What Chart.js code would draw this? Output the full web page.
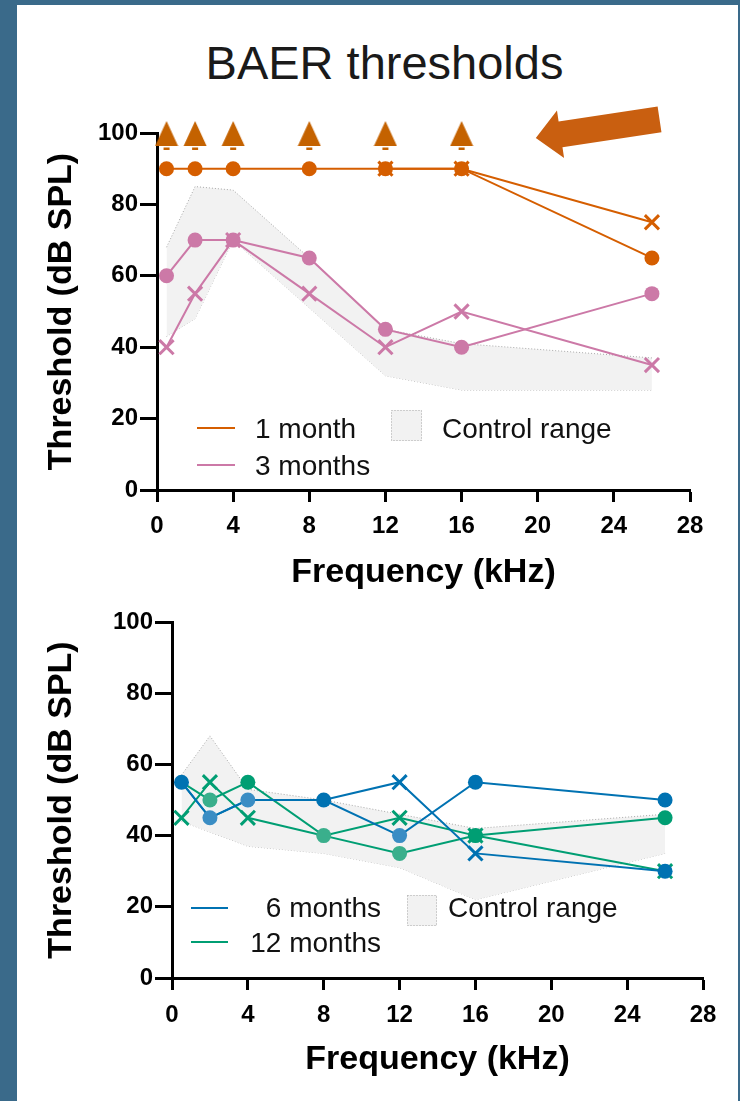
<!DOCTYPE html>
<html>
<head>
<meta charset="utf-8">
<script src="https://cdn.jsdelivr.net/npm/chart.js@4.4.1/dist/chart.umd.min.js"></script>
<style>
html, body { margin: 0; padding: 0; background: #fff; }
body { width: 740px; height: 1101px; position: relative; overflow: hidden; font-family: "Liberation Sans", Arial, sans-serif; }
.band { position: absolute; background: #3a6a8a; z-index: 5; }
#title { position: absolute; left: 0; width: 769px; top: 39px; line-height: 47px; text-align: center; font-size: 47px; color: #1a1a1a; }
canvas { position: absolute; left: 0; }
</style>
</head>
<body>
<div class="band" style="left:0;top:0;width:17px;height:1101px"></div>
<div class="band" style="left:0;top:0;width:740px;height:5px"></div>
<div class="band" style="right:0;top:0;width:2px;height:1101px"></div>
<div id="title">BAER thresholds</div>
<canvas id="topChart" width="740" height="600" style="top:0"></canvas>
<canvas id="bottomChart" width="740" height="501" style="top:600px"></canvas>

<script>
// ---------------- DATA ----------------
const freqs = [0.5, 2, 4, 8, 12, 16, 26];           // kHz

// top panel: 1 and 3 months
const month1Circle = [90, 90, 90, 90, 90, 90, 65];
const month1Cross = [null, null, null, null, 90, 90, 75];
const month1NoResponse = [100, 100, 100, 100, 100, 100, null];
const month3Circle = [60, 70, 70, 65, 45, 40, 55];
const month3Cross = [40, 55, 70, 55, 40, 50, 35];
const controlUpperTop = [68, 85, 84, 65, 45, 41, 37];
const controlLowerTop = [43, 48, 70, 51, 32, 28, 28];

// bottom panel: 6 and 12 months
const month6Circle = [55, 45, 50, 50, 40, 55, 50];
const month6Cross = [55, 45, 50, 50, 55, 35, 30];
const month12Circle = [55, 50, 55, 40, 35, 40, 45];
const month12Cross = [45, 55, 45, 40, 45, 40, 30];
const controlUpperBottom = [57, 68, 53, 50, 46, 42, 46];
const controlLowerBottom = [44, 41, 37, 35, 31, 22, 35];

const xTicks = { min: 0, max: 28, step: 4 };
const yTicks = { min: 0, max: 100, step: 20 };

// ---------------- STYLE ----------------
const FONT = '"Liberation Sans", Arial, Helvetica, sans-serif';
const ORANGE = "#d55e00";
const PINK = "#cc79a7";
const BLUE = "#0072b2";
const BLUE_LIGHT = "#3a8dc4";
const GREEN = "#009e73";
const GREEN_LIGHT = "#3aaf8c";
const CTRL_FILL = "#f2f2f2";
const CTRL_EDGE = "#a8a8a8";

function xy(values) {
    return freqs.map((f, i) => ({ x: f, y: values[i] }));
}

// up-arrow marker (triangle with a small stem), drawn once into a canvas
function arrowMarker(color) {
    const c = document.createElement("canvas");
    c.width = 24;
    c.height = 36;
    const g = c.getContext("2d");
    g.fillStyle = color;
    g.beginPath();
    g.moveTo(12, 6);
    g.lineTo(23.5, 31);
    g.lineTo(0.5, 31);
    g.closePath();
    g.fill();
    g.fillRect(9, 32.5, 6, 2.5);
    return c;
}

function controlSets(upper, lower) {
    const common = {
        borderColor: CTRL_EDGE, borderWidth: 1, borderDash: [1, 2],
        pointRadius: 0, tension: 0, order: 10
    };
    return [
        { ...common, label: "Control range", data: xy(upper), backgroundColor: CTRL_FILL, fill: "+1" },
        { ...common, label: "Control low", data: xy(lower), fill: false }
    ];
}

function circleSet(label, values, color, extra) {
    return Object.assign({
        label, data: xy(values), borderColor: color, borderWidth: 2,
        pointStyle: "circle", pointRadius: 7.5, pointBorderWidth: 0,
        pointBackgroundColor: color, fill: false, clip: false, order: 0
    }, extra || {});
}

function crossSet(label, values, color, extra) {
    return Object.assign({
        label, data: xy(values), borderColor: color, borderWidth: 2,
        pointStyle: "crossRot", pointRadius: 10, pointBorderWidth: 3,
        pointBorderColor: color, pointBackgroundColor: color, fill: false, clip: false, order: 0
    }, extra || {});
}

function axes(o) {
    const tickFont = { family: FONT, size: 24, weight: "bold" };
    const titleFont = { family: FONT, size: 34, weight: "bold" };
    return {
        x: {
            type: "linear", min: xTicks.min, max: xTicks.max,
            ticks: { stepSize: xTicks.step, autoSkip: false, maxRotation: 0, color: "#000", padding: o.xTickPad, font: tickFont },
            grid: { drawOnChartArea: false, drawTicks: true, tickLength: 12, tickWidth: 3, tickColor: "#000" },
            border: { display: true, color: "#000", width: 3 },
            title: { display: true, text: "Frequency (kHz)", color: "#000", font: titleFont, padding: { top: 0, bottom: o.xTitlePad } },
            afterFit: s => { s.height = o.xHeight; }
        },
        y: {
            type: "linear", min: yTicks.min, max: yTicks.max,
            ticks: { stepSize: yTicks.step, color: "#000", padding: 2, font: tickFont },
            grid: { drawOnChartArea: false, drawTicks: true, tickLength: 17, tickWidth: 3, tickColor: "#000" },
            border: { display: true, color: "#000", width: 3 },
            title: { display: true, text: "Threshold (dB SPL)", color: "#000", font: titleFont, padding: { top: 41, bottom: 0 } },
            afterFit: s => { s.width = o.yWidth; }
        }
    };
}

// legend + annotation painter
function decorPlugin(deco) {
    return {
        id: "decor",
        afterDraw(chart) {
            const ctx = chart.ctx;
            ctx.save();
            ctx.font = "28px " + FONT;
            ctx.fillStyle = "#111";
            ctx.textBaseline = "alphabetic";

            deco.lines.forEach(it => {
                ctx.strokeStyle = it.color;
                ctx.lineWidth = 2;
                ctx.beginPath();
                ctx.moveTo(it.x1, it.y);
                ctx.lineTo(it.x2, it.y);
                ctx.stroke();
                ctx.textAlign = it.align || "left";
                ctx.fillText(it.text, it.tx, it.ty);
            });

            const b = deco.box;
            ctx.fillStyle = CTRL_FILL;
            ctx.fillRect(b.x, b.y, b.w, b.h);
            ctx.strokeStyle = CTRL_EDGE;
            ctx.lineWidth = 1;
            ctx.setLineDash([1, 2]);
            ctx.strokeRect(b.x + 0.5, b.y + 0.5, b.w - 1, b.h - 1);
            ctx.setLineDash([]);
            ctx.fillStyle = "#111";
            ctx.textAlign = "left";
            ctx.fillText(b.text, b.tx, b.ty);

            if (deco.arrow) {
                const a = deco.arrow;
                const sx = chart.scales.x, sy = chart.scales.y;
                const tip = [sx.getPixelForValue(a.tip[0]), sy.getPixelForValue(a.tip[1])];
                const tail = [sx.getPixelForValue(a.tail[0]), sy.getPixelForValue(a.tail[1])];
                const dx = tail[0] - tip[0], dy = tail[1] - tip[1];
                const len = Math.hypot(dx, dy);
                const ux = dx / len, uy = dy / len;
                const nx = -uy, ny = ux;
                const hb = [tip[0] + ux * a.head, tip[1] + uy * a.head];
                const pts = [
                    tip,
                    [hb[0] + nx * a.headHalf, hb[1] + ny * a.headHalf],
                    [hb[0] + nx * a.shaftHalf, hb[1] + ny * a.shaftHalf],
                    [tail[0] + nx * a.shaftHalf, tail[1] + ny * a.shaftHalf],
                    [tail[0] - nx * a.shaftHalf, tail[1] - ny * a.shaftHalf],
                    [hb[0] - nx * a.shaftHalf, hb[1] - ny * a.shaftHalf],
                    [hb[0] - nx * a.headHalf, hb[1] - ny * a.headHalf]
                ];
                ctx.fillStyle = a.color;
                ctx.beginPath();
                pts.forEach((p, i) => i ? ctx.lineTo(p[0], p[1]) : ctx.moveTo(p[0], p[1]));
                ctx.closePath();
                ctx.fill();
            }
            ctx.restore();
        }
    };
}

// ---------------- TOP PANEL ----------------
const triangle = arrowMarker("#c46200");

new Chart(document.getElementById("topChart"), {
    type: "line",
    data: {
        datasets: [
            circleSet("1 month", month1Circle, ORANGE),
            crossSet("1 month (2)", month1Cross, ORANGE),
            {
                label: "1 month (no response)", data: xy(month1NoResponse), showLine: false,
                pointStyle: triangle, pointRadius: 12, clip: false, order: 0
            },
            circleSet("3 months", month3Circle, PINK),
            crossSet("3 months (2)", month3Cross, PINK),
            ...controlSets(controlUpperTop, controlLowerTop)
        ]
    },
    options: {
        responsive: false,
        animation: false,
        events: [],
        layout: { padding: { left: 0, right: 50, top: 133, bottom: 0 } },
        plugins: { legend: { display: false }, tooltip: { enabled: false } },
        scales: axes({ yWidth: 157, xHeight: 110, xTickPad: 10, xTitlePad: 7 })
    },
    plugins: [decorPlugin({
        lines: [
            { color: ORANGE, x1: 197, x2: 235, y: 428, text: "1 month", tx: 255, ty: 438 },
            { color: PINK, x1: 197, x2: 235, y: 465, text: "3 months", tx: 255, ty: 475 }
        ],
        box: { x: 391, y: 410, w: 31, h: 31, text: "Control range", tx: 442, ty: 438 },
        arrow: { tip: [19.9, 98.6], tail: [26.4, 103.8], head: 25, headHalf: 24, shaftHalf: 13, color: "#c95f10" }
    })]
});

// ---------------- BOTTOM PANEL ----------------
new Chart(document.getElementById("bottomChart"), {
    type: "line",
    data: {
        datasets: [
            circleSet("6 months", month6Circle, BLUE, {
                pointBackgroundColor: [BLUE, BLUE_LIGHT, BLUE_LIGHT, BLUE, BLUE_LIGHT, BLUE, BLUE]
            }),
            crossSet("6 months (2)", month6Cross, BLUE, {
                pointStyle: ["crossRot", "crossRot", "crossRot", "crossRot", "crossRot", "crossRot", "circle"],
                pointRadius: [0, 0, 0, 0, 10, 10, 7.5],
                pointBorderWidth: [3, 3, 3, 3, 3, 3, 0]
            }),
            circleSet("12 months", month12Circle, GREEN, {
                pointRadius: [0, 7.5, 7.5, 7.5, 7.5, 7.5, 7.5],
                pointBackgroundColor: [GREEN, GREEN_LIGHT, GREEN, GREEN_LIGHT, GREEN_LIGHT, GREEN, GREEN]
            }),
            crossSet("12 months (2)", month12Cross, GREEN, {
                pointRadius: [10, 10, 10, 0, 10, 10, 10]
            }),
            ...controlSets(controlUpperBottom, controlLowerBottom)
        ]
    },
    options: {
        responsive: false,
        animation: false,
        events: [],
        layout: { padding: { left: 0, right: 37, top: 22, bottom: 0 } },
        plugins: { legend: { display: false }, tooltip: { enabled: false } },
        scales: axes({ yWidth: 172, xHeight: 123, xTickPad: 11, xTitlePad: 21 })
    },
    plugins: [decorPlugin({
        lines: [
            { color: BLUE, x1: 191, x2: 228, y: 308, text: "6 months", tx: 381, ty: 317, align: "right" },
            { color: GREEN, x1: 191, x2: 228, y: 342, text: "12 months", tx: 381, ty: 352, align: "right" }
        ],
        box: { x: 407, y: 295, w: 30, h: 31, text: "Control range", tx: 448, ty: 317 }
    })]
});
</script>
</body>
</html>
